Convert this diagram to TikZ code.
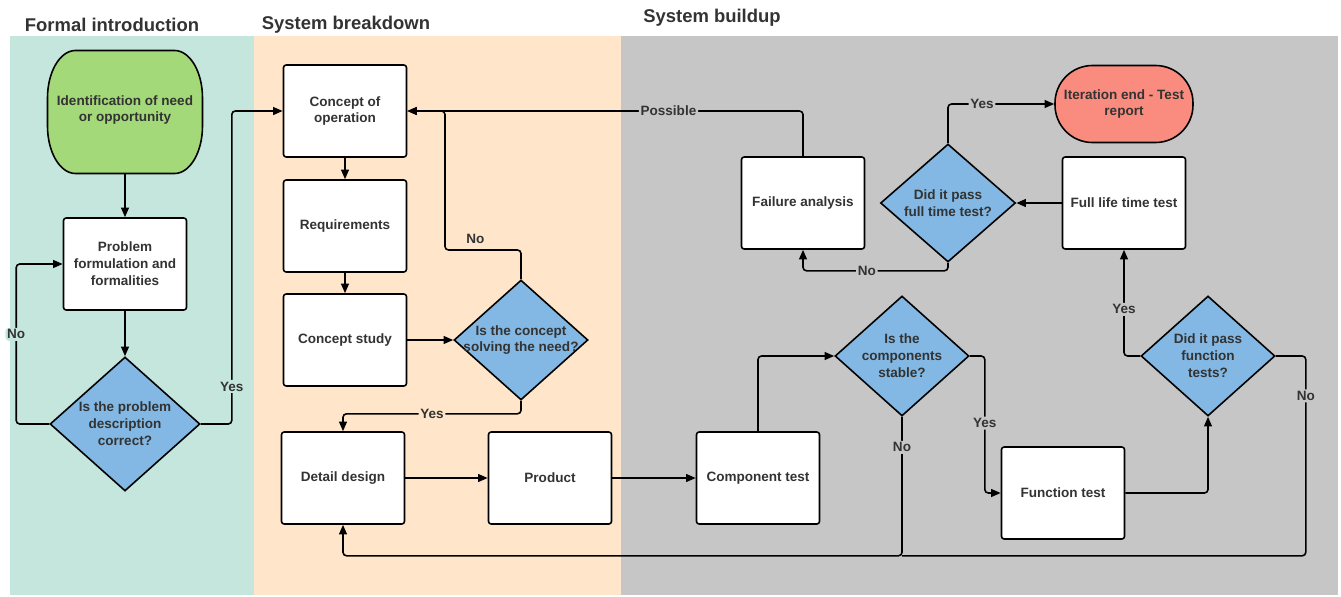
\documentclass[tikz,border=0pt]{standalone}
\usepackage{fontspec}
\setmainfont{Liberation Sans}
\usetikzlibrary{shapes.geometric, arrows.meta}

\definecolor{lanea}{HTML}{C5E6DD}
\definecolor{laneb}{HTML}{FFE6CA}
\definecolor{lanec}{HTML}{C6C6C6}
\definecolor{askblue}{HTML}{82B8E3}
\definecolor{startgreen}{HTML}{A3D978}
\definecolor{endred}{HTML}{F98C7E}
\definecolor{inkgray}{HTML}{333333}

\newcommand\boxfont{\fontsize{7.7}{9.6}\selectfont\bfseries}
\newcommand\lanefont{\fontsize{10.5}{12}\selectfont\bfseries}

\tikzset{
  stepbox/.style={draw, line width=.9pt, fill=white, rounded corners=1.5pt,
    minimum width=2.46cm, minimum height=1.84cm, align=center,
    font=\boxfont, text=inkgray},
  ask/.style={diamond, draw, line width=.9pt, fill=askblue,
    minimum width=2.68cm, minimum height=2.4cm, inner sep=0pt},
  asktext/.style={align=center, font=\boxfont, text=inkgray, inner sep=0pt},
  flow/.style={line width=.9pt, rounded corners=2pt,
    -{Triangle[length=5.5pt,width=4.5pt]}},
  tag/.style={font=\boxfont, text=inkgray, inner sep=1pt},
  lanetitle/.style={font=\lanefont, text=inkgray},
}

\begin{document}
\begin{tikzpicture}
  \useasboundingbox (0, 0) rectangle (26.82cm, -11.92cm);
  \foreach \xa/\xb/\c in {0.2/5.08/lanea, 5.08/12.42/laneb, 12.42/26.76/lanec}
  \fill[\c] (\xa cm, -.72cm) rectangle (\xb cm, -11.9cm);
  \node at(2.24cm, -.5cm) [lanetitle](ta){Formal introduction};
  \node at(6.92cm, -.5cm) [lanetitle](tb){System breakdown};
  \node at(14.24cm, -.36cm) [lanetitle](tc){System buildup};

  \filldraw[line width=.9pt, fill=startgreen] (1.51cm, -1.01cm) -- (3.49cm, -1.01cm)
    arc[start angle=90, end angle=0, x radius=.56cm, y radius=.95cm] -- (4.05cm, -2.52cm)
    arc[start angle=0, end angle=-90, x radius=.56cm, y radius=.95cm] -- (1.51cm, -3.47cm)
    arc[start angle=-90, end angle=-180, x radius=.56cm, y radius=.95cm] -- (.95cm, -1.96cm)
    arc[start angle=180, end angle=90, x radius=.56cm, y radius=.95cm] -- cycle;
  \node at(2.5cm, -2.2cm) [align=center, font=\boxfont, text=inkgray,
    minimum width=3.1cm, minimum height=2.54cm](need){Identification of need\\or opportunity};
  \node at(2.5cm, -5.28cm) [stepbox](prob){Problem\\formulation and\\formalities};
  \node at(2.5cm, -8.48cm) [ask, minimum width=3cm, minimum height=2.68cm,
    label={[asktext]center:{Is the problem\\description\\correct?}}](dprob){};

  \node at(6.9cm, -2.22cm) [stepbox](conop){Concept of\\operation};
  \node at(6.9cm, -4.52cm) [stepbox](req){Requirements};
  \node at(6.9cm, -6.8cm) [stepbox](study){Concept study};
  \node at(10.42cm, -6.8cm) [ask,
    label={[asktext]center:{Is the concept\\solving the need?}}](dneed){};
  \node at(6.86cm, -9.56cm) [stepbox](detail){Detail design};
  \node at(11cm, -9.56cm) [stepbox](prod){Product};

  \node at(15.16cm, -9.56cm) [stepbox](comp){Component test};
  \node at(18.04cm, -7.12cm) [ask,
    label={[asktext]center:{Is the\\components\\stable?}}](dstab){};
  \node at(21.26cm, -9.86cm) [stepbox](func){Function test};
  \node at(24.16cm, -7.12cm) [ask,
    label={[asktext]center:{Did it pass\\function\\tests?}}](dfunc){};
  \node at(22.48cm, -4.06cm) [stepbox](life){Full life time test};
  \node at(18.96cm, -4.06cm) [ask, minimum width=2.7cm, minimum height=2.36cm,
    label={[asktext]center:{Did it pass\\full time test?}}](dlife){};
  \node at(16.06cm, -4.06cm) [stepbox](fail){Failure analysis};
  \node at(22.48cm, -2.08cm) [stepbox, fill=endred, rounded corners=.75cm,
    minimum width=2.76cm, minimum height=1.54cm](fin){Iteration end - Test\\report};

  \draw[flow] (need) -- (prob);
  \draw[flow] (prob) -- (dprob);
  \draw[flow] (dprob.west) -- ++(-.66cm, 0) |- node[pos=.28, tag, fill=lanea]{No} (prob.west);
  \draw[flow] (dprob.east) -- ++(.62cm, 0) |- node[pos=.06, tag, fill=lanea]{Yes} (conop.west);

  \draw[flow] (conop) -- (req);
  \draw[flow] (req) -- (study);
  \draw[flow] (study) -- (dneed);
  \coordinate (nobend) at (8.9cm, -5cm);
  \draw[flow] (dneed.north) |- node[pos=.8, above=2pt, tag]{No} (nobend) |- (conop.east);
  \draw[flow] (dneed.south) -- ++(0, -.26cm) -| node[pos=.25, tag, fill=laneb]{Yes} (detail.north);
  \draw[flow] (fail.north) |- node[pos=.67, tag, fill=lanec]{Possible} (conop.east);
  \draw[flow] (detail) -- (prod);
  \draw[flow] (prod) -- (comp);

  \draw[flow] (comp.north) |- (dstab.west);
  \draw[flow] (dstab.east) -- ++(.3cm, 0) |- node[pos=.245, tag, fill=lanec]{Yes} (func.west);
  \draw[flow] (dstab.south) -- node[pos=.22, tag, fill=lanec]{No} ++(0, -2.78cm)
    coordinate (low) -| (detail.south);
  \draw[flow] (func.east) -| (dfunc.south);
  \draw[flow] (dfunc.west) -| node[pos=.72, tag, fill=lanec]{Yes} (life.south);
  \draw[line width=.9pt, rounded corners=2pt] (dfunc.east) -- ++(.6cm, 0)
    |- node[pos=.1, tag, fill=lanec]{No} (low);
  \draw[flow] (life) -- (dlife);
  \draw[flow] (dlife.north) |- node[pos=.66, tag, fill=lanec]{Yes} (fin.west);
  \draw[flow] (dlife.south) -- ++(0, -.16cm) -| node[pos=.28, tag, fill=lanec]{No} (fail.south);
\end{tikzpicture}
\end{document}
